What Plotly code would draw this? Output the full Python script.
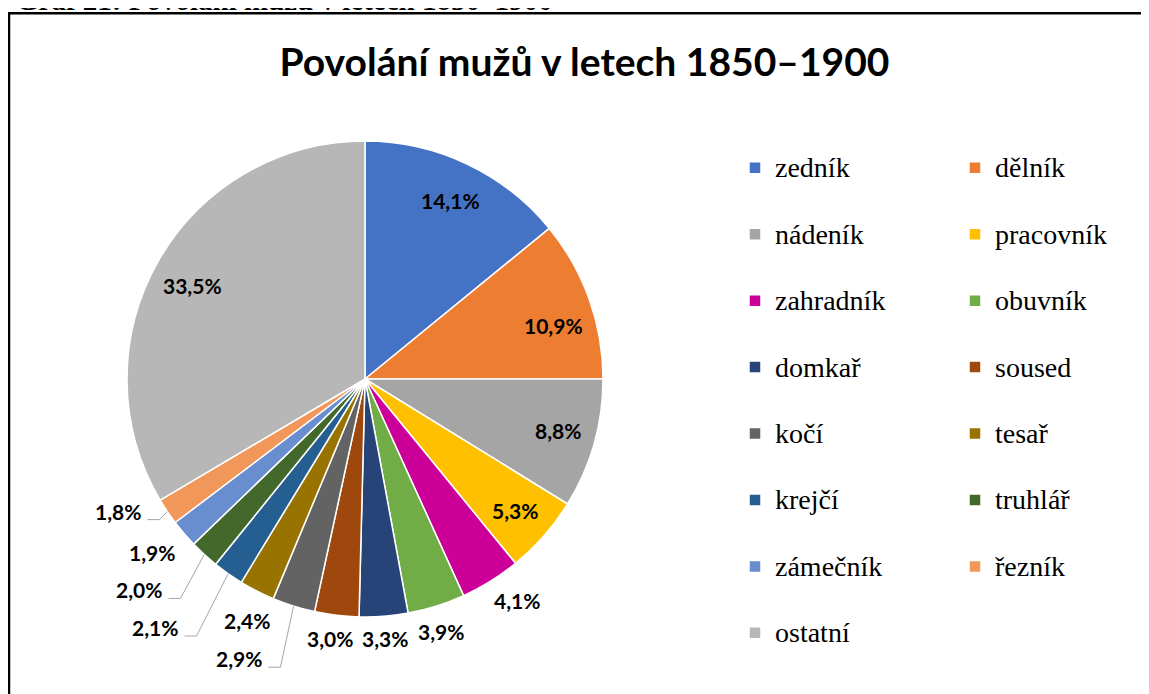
import math
import plotly.graph_objects as go

# ---------------- data ----------------
occupations = ["zedník", "dělník", "nádeník", "pracovník", "zahradník", "obuvník",
               "domkař", "soused", "kočí", "tesař", "krejčí", "truhlář",
               "zámečník", "řezník", "ostatní"]
shares = [14.1, 10.9, 8.8, 5.3, 4.1, 3.9, 3.3, 3.0, 2.9, 2.4, 2.1, 2.0, 1.9, 1.8, 33.5]
colors = ["#4472C4", "#ED7D31", "#A5A5A5", "#FFC000", "#CC0099", "#70AD47",
          "#264478", "#9E480E", "#636363", "#997300", "#255E91", "#43682B",
          "#698ED0", "#F1975A", "#B7B7B7"]

title_text = "Povolání mužů v letech 1850–1900"
caption_text = "Graf 21: Povolání mužů v letech 1850–1900"

# ---------------- layout constants (screen pixels) ----------------
OFF = 8                      # page body margin
W, H = 1149 - OFF, 694 - OFF  # figure size
M_R = 414
PW = W - M_R
CX, CY, R = 365, 379, 238    # pie centre / radius on screen


def px(x):
    return (x - OFF) / PW


def py(y):
    return 1 - (y - OFF) / H


# data-label placement: (angle offset from slice middle in deg, radius factor)
label_place = [(0.2, 0.832), (3.9, 0.823), (-1.0, 0.839), (0.1, 0.84), (-2.5, 1.128),
               (0.7, 1.106), (0.2, 1.095), (0.8, 1.102), (6.8, 1.289), (-0.9, 1.13),
               (5.1, 1.367), (4.5, 1.299), (1.3, 1.153), (5.7, 1.177), (-1.2, 0.827)]
leader_for = {"kočí", "krejčí", "truhlář", "řezník"}
LABEL_HALF_W = 23.5
LABEL_HALF_H = 7.5

legend_labels = [f'<span style="font-size:28px">{o}</span><br> ' for o in occupations]

fig = go.Figure(go.Pie(
    labels=legend_labels,
    values=shares,
    sort=False,
    direction="clockwise",
    rotation=0,
    marker=dict(colors=colors, line=dict(color="white", width=1.5)),
    textinfo="none",
    hoverinfo="label+percent",
    domain=dict(x=[px(CX - R), px(CX + R)], y=[py(CY + R), py(CY - R)]),
))

# ---------------- data labels + leader lines ----------------
total = sum(shares)
annotations = []
shapes = []
cum = 0.0
for name, v, (doff, rf) in zip(occupations, shares, label_place):
    mid = (cum + v / 2) / total * 360.0
    cum += v
    a = math.radians(mid + doff)
    lx = CX + rf * R * math.sin(a)
    ly = CY - rf * R * math.cos(a)
    txt = f"{v:.1f}".replace(".", ",") + "%"
    annotations.append(dict(
        x=px(lx), y=py(ly), xref="paper", yref="paper", text=txt, showarrow=False,
        xanchor="center", yanchor="middle",
        font=dict(family="Lato", size=21, color="black", weight="bold"),
    ))
    if name in leader_for:
        am = math.radians(mid)
        ex = CX + R * math.sin(am)
        ey = CY - R * math.cos(am)
        x0 = lx + LABEL_HALF_W + 6
        yb = ly + LABEL_HALF_H + 1
        x1 = x0 + 12
        path = f"M {px(x0)},{py(yb)} L {px(x1)},{py(yb)} L {px(ex)},{py(ey)}"
        shapes.append(dict(type="path", xref="paper", yref="paper", path=path,
                           line=dict(color="#A6A6A6", width=1)))

# caption (cut off at top of page) and frame
annotations.append(dict(
    x=px(14), y=py(-0.5), xref="paper", yref="paper", text=caption_text, showarrow=False,
    xanchor="left", yanchor="middle",
    font=dict(family="Liberation Serif", size=29, color="black", weight="bold"),
))
shapes.append(dict(type="rect", xref="paper", yref="paper",
                   x0=px(9), x1=px(1149 + 30), y0=py(13.3), y1=py(694 + 30),
                   line=dict(color="black", width=2.5), fillcolor="rgba(0,0,0,0)",
                   layer="above"))

fig.update_layout(
    width=W, height=H,
    margin=dict(l=0, r=M_R, t=0, b=0, autoexpand=False),
    paper_bgcolor="white", plot_bgcolor="white",
    title=dict(text=title_text, x=(584.5 - OFF) / W, xanchor="center", xref="container",
               y=1 - (62.5 - OFF) / H, yanchor="middle", yref="container",
               font=dict(family="Lato", size=39, color="black", weight="bold")),
    legend=dict(
        orientation="h", x=1.0, xanchor="left", y=py(145.4), yanchor="top",
        entrywidth=175, entrywidthmode="pixels", valign="top",
        font=dict(family="Liberation Serif", size=24.4, color="black"),
        bgcolor="rgba(0,0,0,0)", borderwidth=0, maxheight=1,
    ),
    annotations=annotations,
    shapes=shapes,
)

fig.write_html("out.html")
